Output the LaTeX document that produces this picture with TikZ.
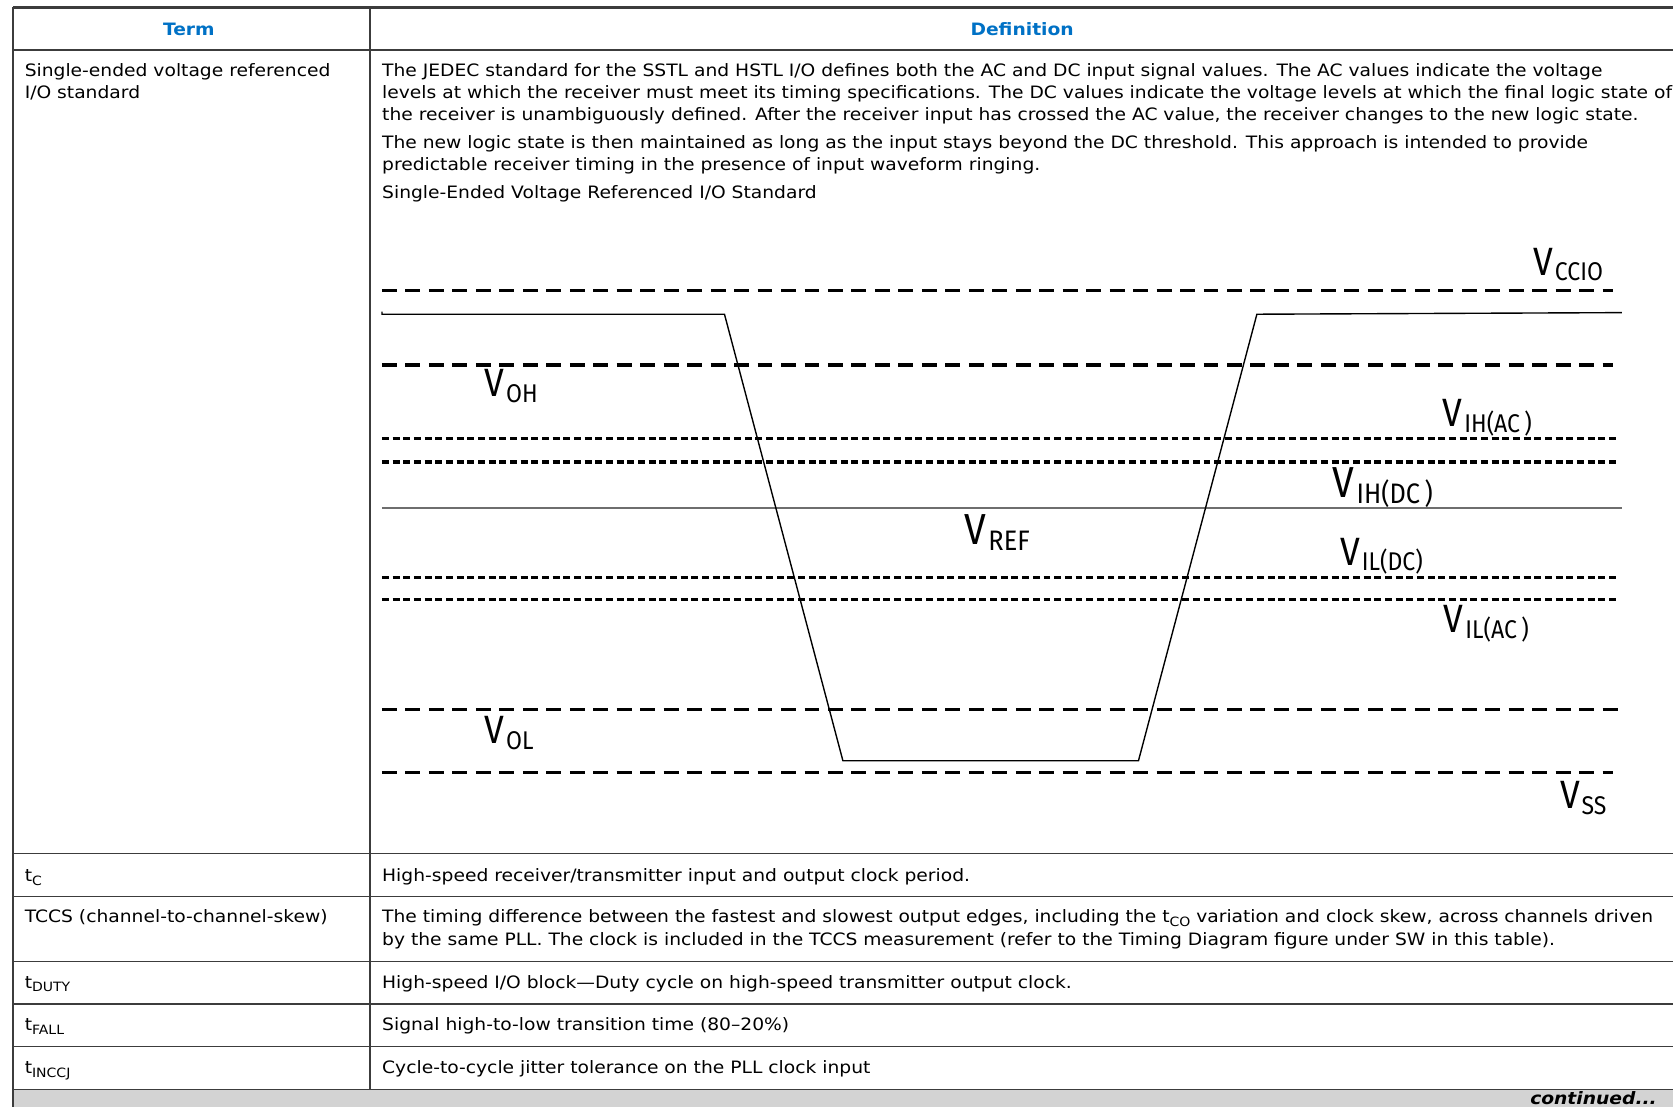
\documentclass[tikz,border=0pt]{standalone}
\usepackage{fontspec}
\usepackage{xcolor}
\setmainfont[FakeStretch=1.095]{DejaVu Sans}
\newfontfamily\levfont[FakeStretch=0.9]{Fira Sans}

\definecolor{intelblue}{RGB}{0,113,197}
\definecolor{rulegray}{RGB}{60,60,60}
\definecolor{bandgray}{RGB}{211,211,211}
\definecolor{refgray}{RGB}{110,110,110}

% level label: big V with lowered subscript
\newcommand{\vlev}[1]{{\levfont\fontsize{37}{37}\selectfont V}\,\raisebox{-5pt}{\levfont\fontsize{24}{24}\selectfont #1}}
% term with subscript
\newcommand{\tsub}[2]{#1\raisebox{-3.5pt}{\fontsize{12}{12}\selectfont #2}}

\tikzset{
  rowline/.style={draw=rulegray, line width=1.4pt},
  celltext/.style={anchor=base west, inner sep=0pt, font=\fontsize{16}{20.5}\selectfont},
  headtext/.style={anchor=base, inner sep=0pt, text=intelblue, font=\fontsize{16}{20}\selectfont\bfseries},
  heavydash/.style={line width=3.2pt, dash pattern=on 14pt off 8pt},
  finedash/.style={line width=3pt, dash pattern=on 6.5pt off 3.5pt},
  level/.style={anchor=base west, inner sep=0pt},
  wave/.style={line width=1.3pt, line join=miter},
}

\begin{document}
\begin{tikzpicture}[x=1pt,y=-1pt]
    \useasboundingbox (0,0) rectangle (1568,1037.5);

    % Continued band
    \fill[bandgray] (12,1021) rectangle (1568,1037.5);

    % Table rules
    \draw[rowline, line width=2pt] (12,7) -- (1568,7);
    \draw[rowline, line width=1.8pt] (12,47) -- (1568,47);
    \draw[rowline] (12,800) -- (1568,800);
    \draw[rowline] (12,840) -- (1568,840);
    \draw[rowline] (12,901) -- (1568,901);
    \draw[rowline] (12,941) -- (1568,941);
    \draw[rowline] (12,981) -- (1568,981);
    \draw[rowline] (12,1021) -- (1568,1021);
    \draw[rowline] (12,7) -- (12,1037.5);
    \draw[rowline] (347,7) -- (347,1021);

    % Header
    \node[headtext] (term) at (177,33) {Term};
    \node[headtext] (defn) at (958,33) {Definition};

    % First row
    \node[celltext] (sevr1) at (23,72) {Single-ended voltage referenced};
    \node[celltext] (sevr2) at (23,92.5) {I/O standard};
    \node[celltext] (def1) at (358,72) {The JEDEC standard for the SSTL and HSTL I/O defines both the AC and DC input signal values. The AC values indicate the voltage};
    \node[celltext] (def2) at (358,92.5) {levels at which the receiver must meet its timing specifications. The DC values indicate the voltage levels at which the final logic state of};
    \node[celltext] (def3) at (358,113) {the receiver is unambiguously defined. After the receiver input has crossed the AC value, the receiver changes to the new logic state.};
    \node[celltext] (def4) at (358,139) {The new logic state is then maintained as long as the input stays beyond the DC threshold. This approach is intended to provide};
    \node[celltext] (def5) at (358,159.5) {predictable receiver timing in the presence of input waveform ringing.};
    \node[celltext] (cap) at (358,186) {Single-Ended Voltage Referenced I/O Standard};

    % Voltage levels
    \draw[heavydash] (358,272) -- (1512,272);
    \draw[heavydash] (358,342) -- (1512,342);
    \draw[finedash] (358,411) -- (1516,411);
    \draw[finedash] (358,433) -- (1516,433);
    \draw[refgray, line width=1.4pt] (358,476) -- (1520,476);
    \draw[finedash] (358,541) -- (1516,541);
    \draw[finedash] (358,562) -- (1516,562);
    \draw[heavydash] (358,665) -- (1520,665);
    \draw[heavydash] (358,724) -- (1512,724);

    % Input waveform
    \draw[wave] (358,292) -- (358,294.5) -- (679,294.5) -- (790,713)
        -- (1067,713) -- (1178,294.5) -- (1520,293);

    % Level labels
    \node[level] (vccio) at (1437,258) {\vlev{CCIO}};
    \node[level] (voh) at (454,372) {\vlev{OH}};
    \node[level] (vihac) at (1352,400) {\vlev{IH(AC\,)}};
    \node[level, scale=1.1] (vihdc) at (1249,466) {\vlev{IH(DC\,)}};
    \node[level, scale=1.1] (vref) at (904,510) {\vlev{REF}};
    \node[level] (vildc) at (1256,530) {\vlev{IL(DC)}};
    \node[level] (vilac) at (1353,593) {\vlev{IL(AC\,)}};
    \node[level] (vol) at (454,697) {\vlev{OL}};
    \node[level] (vss) at (1462,758) {\vlev{SS}};

    % Remaining rows
    \node[celltext] (tc) at (23,826) {\tsub{t}{C}};
    \node[celltext] (tcdef) at (358,826) {High-speed receiver/transmitter input and output clock period.};
    \node[celltext] (tccs) at (23,865) {TCCS (channel-to-channel-skew)};
    \node[celltext] (tccsdef1) at (358,865) {The timing difference between the fastest and slowest output edges, including the \tsub{t}{CO} variation and clock skew, across channels driven};
    \node[celltext] (tccsdef2) at (358,886) {by the same PLL. The clock is included in the TCCS measurement (refer to the Timing Diagram figure under SW in this table).};
    \node[celltext] (tduty) at (23,926) {\tsub{t}{DUTY}};
    \node[celltext] (tdutydef) at (358,926) {High-speed I/O block—Duty cycle on high-speed transmitter output clock.};
    \node[celltext] (tfall) at (23,966) {\tsub{t}{FALL}};
    \node[celltext] (tfalldef) at (358,966) {Signal high-to-low transition time (80–20\%)};
    \node[celltext] (tinccj) at (23,1006) {\tsub{t}{INCCJ}};
    \node[celltext] (tinccjdef) at (358,1006) {Cycle-to-cycle jitter tolerance on the PLL clock input};

    % Continued
    \node[anchor=base east, inner sep=0pt, font=\fontsize{16}{20}\selectfont\bfseries\itshape] (cont) at (1553,1035) {continued...};
\end{tikzpicture}
\end{document}
